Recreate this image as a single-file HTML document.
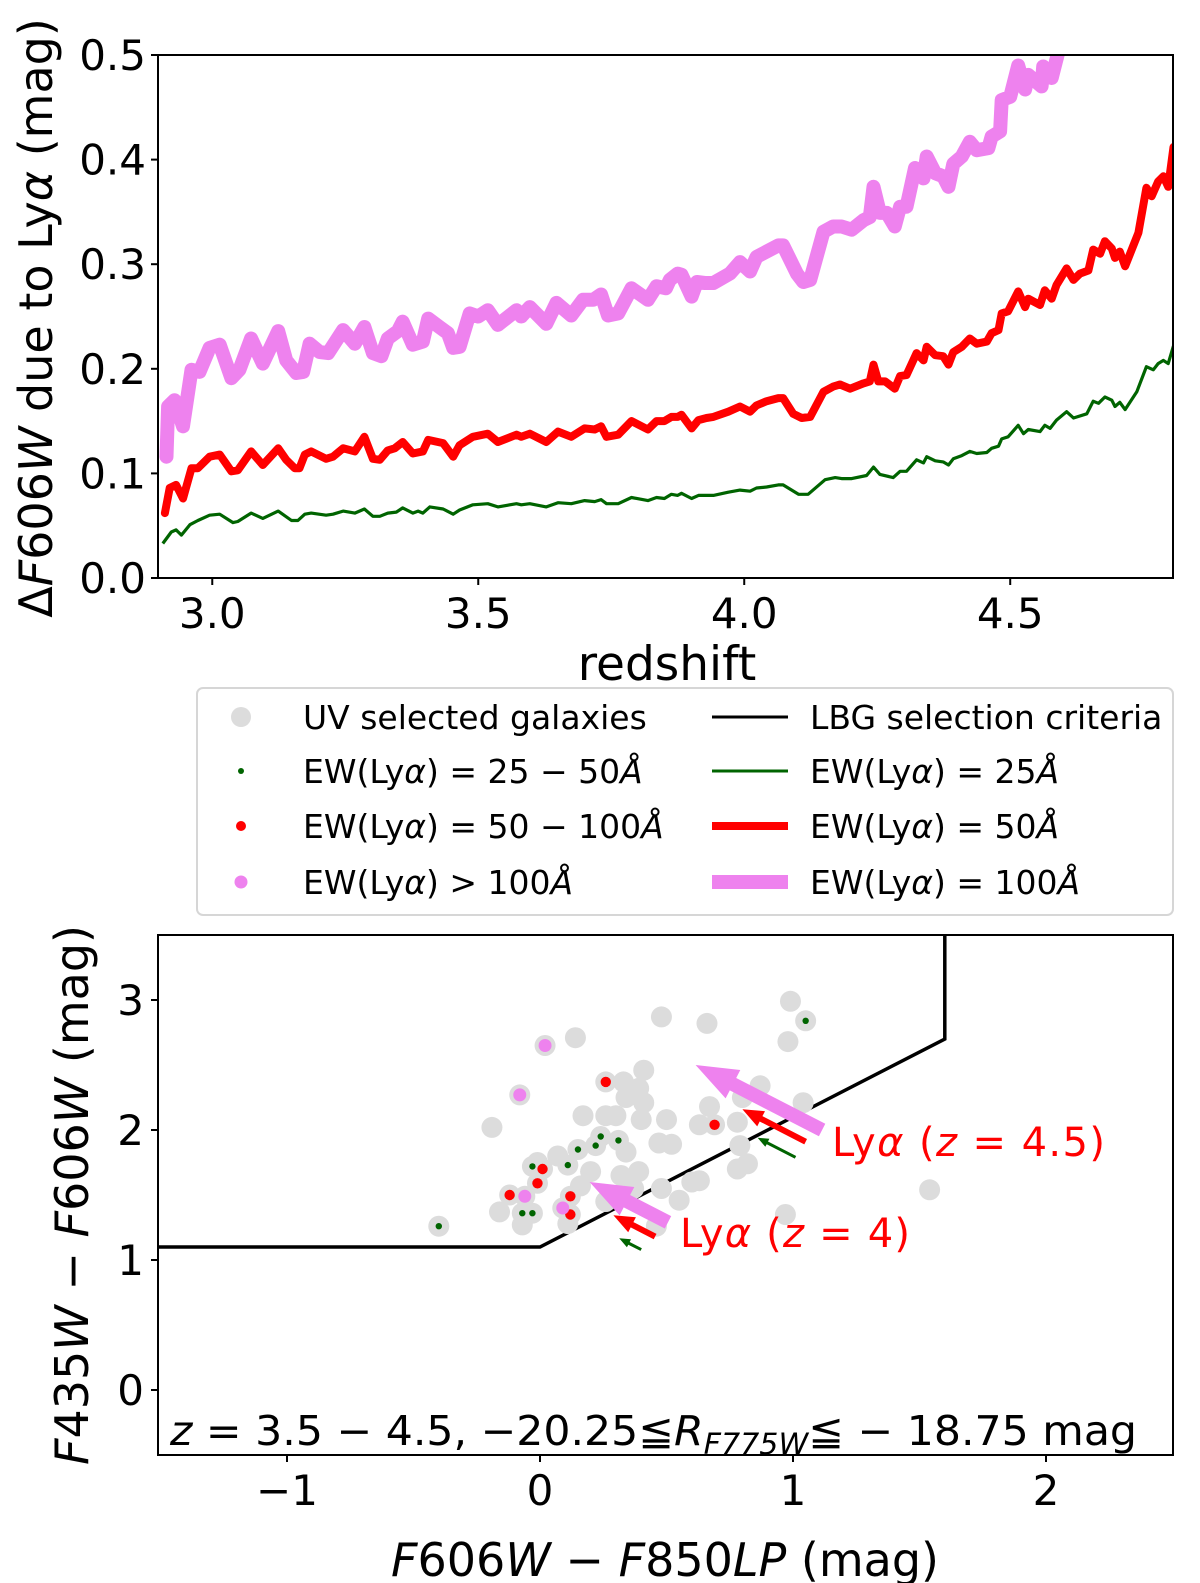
<!DOCTYPE html>
<html><head><meta charset="utf-8"><style>
html,body{margin:0;padding:0;background:#fff;}
svg{display:block;font-family:"DejaVu Sans","Liberation Sans",sans-serif;}
</style></head><body>
<svg id="fig" width="1200" height="1583" viewBox="0 0 1200 1583" xmlns="http://www.w3.org/2000/svg">
<g id="topPanel"></g>
<g id="legendPanel"></g>
<g id="botPanel"></g>
</svg>
<script>
// ---------- top panel data ----------
const topXTicks = [3.0, 3.5, 4.0, 4.5];
const topXTickLabels = ["3.0", "3.5", "4.0", "4.5"];
const topYTicks = [0.0, 0.1, 0.2, 0.3, 0.4, 0.5];
const topYTickLabels = ["0.0", "0.1", "0.2", "0.3", "0.4", "0.5"];
const pinkZ = [2.914,2.917,2.929,2.945,2.961,2.976,2.995,3.014,3.036,3.051,3.073,3.095,3.124,3.139,3.158,3.171,3.183,3.202,3.218,3.246,3.268,3.286,3.302,3.318,3.330,3.349,3.358,3.377,3.396,3.406,3.427,3.443,3.453,3.465,3.484,3.500,3.518,3.537,3.572,3.581,3.597,3.628,3.647,3.675,3.697,3.716,3.731,3.744,3.763,3.788,3.819,3.835,3.853,3.860,3.875,
3.882,3.901,3.911,3.926,3.942,3.973,3.992,4.011,4.023,4.042,4.064,4.073,4.099,4.111,4.124,4.149,4.167,4.183,4.202,4.224,4.236,4.243,4.255,4.268,4.283,4.293,4.305,4.321,4.337,4.343,4.359,4.374,4.384,4.393,4.409,4.424,4.437,4.459,4.465,4.481,4.484,4.500,4.515,4.528,4.534,4.559,4.562,4.578,4.590,4.620];
const pinkVal = [0.116,0.164,0.170,0.145,0.199,0.197,0.220,0.223,0.191,0.199,0.229,0.205,0.236,0.208,0.196,0.197,0.224,0.216,0.215,0.237,0.224,0.240,0.215,0.212,0.229,0.236,0.245,0.223,0.226,0.248,0.240,0.234,0.220,0.221,0.253,0.250,0.256,0.242,0.256,0.250,0.259,0.243,0.263,0.251,0.266,0.266,0.271,0.251,0.253,0.277,0.266,0.279,0.277,0.285,0.291,
0.290,0.269,0.283,0.282,0.282,0.291,0.302,0.293,0.307,0.312,0.318,0.318,0.291,0.283,0.285,0.331,0.336,0.336,0.333,0.342,0.345,0.374,0.349,0.349,0.336,0.355,0.355,0.392,0.382,0.403,0.387,0.384,0.374,0.396,0.403,0.417,0.409,0.411,0.422,0.427,0.457,0.460,0.490,0.467,0.481,0.470,0.489,0.478,0.502,0.560];
const redZ = [2.911,2.920,2.932,2.945,2.961,2.973,2.995,3.014,3.036,3.048,3.073,3.095,3.124,3.139,3.155,3.164,3.174,3.186,3.214,3.227,3.246,3.268,3.286,3.302,3.315,3.330,3.343,3.358,3.377,3.396,3.406,3.434,3.453,3.465,3.490,3.518,3.537,3.572,3.581,3.597,3.628,3.650,3.675,3.700,3.719,3.731,3.741,3.763,3.788,3.819,3.835,3.850,3.863,3.875,
3.882,3.901,3.914,3.929,3.942,3.970,3.992,4.011,4.023,4.042,4.064,4.073,4.092,4.108,4.124,4.149,4.167,4.180,4.199,4.224,4.236,4.243,4.252,4.265,4.283,4.293,4.305,4.324,4.337,4.343,4.359,4.374,4.384,4.393,4.409,4.424,4.437,4.456,4.465,4.478,4.484,4.496,4.515,4.528,4.534,4.556,4.565,4.578,4.587,4.606,4.619,4.631,4.647,4.656,4.669,4.678,4.691,4.697,4.706,4.716,4.741,4.756,4.766,4.778,4.788,4.797,4.807];
const redVal = [0.062,0.086,0.089,0.076,0.105,0.105,0.116,0.118,0.102,0.103,0.121,0.108,0.124,0.113,0.105,0.105,0.118,0.121,0.114,0.116,0.124,0.121,0.135,0.114,0.113,0.122,0.124,0.130,0.119,0.121,0.132,0.129,0.116,0.127,0.135,0.138,0.130,0.137,0.135,0.138,0.130,0.140,0.135,0.143,0.142,0.145,0.135,0.137,0.150,0.142,0.150,0.150,0.154,0.154,
0.156,0.143,0.151,0.153,0.154,0.159,0.164,0.159,0.165,0.169,0.172,0.172,0.157,0.153,0.154,0.178,0.183,0.185,0.181,0.186,0.188,0.204,0.188,0.188,0.181,0.193,0.194,0.215,0.208,0.221,0.213,0.212,0.204,0.216,0.221,0.229,0.224,0.226,0.234,0.237,0.253,0.255,0.274,0.259,0.267,0.261,0.275,0.267,0.280,0.296,0.285,0.291,0.294,0.314,0.310,0.322,0.315,0.306,0.312,0.298,0.330,0.373,0.365,0.379,0.384,0.374,0.412];
const greenZ = [2.907,2.923,2.932,2.942,2.958,2.973,2.995,3.014,3.039,3.048,3.073,3.095,3.124,3.149,3.161,3.174,3.186,3.214,3.227,3.246,3.268,3.286,3.302,3.315,3.330,3.346,3.358,3.377,3.387,3.396,3.409,3.434,3.453,3.465,3.490,3.518,3.537,3.572,3.581,3.597,3.628,3.650,3.675,3.700,3.719,3.731,3.741,3.763,3.788,3.819,3.835,3.850,3.863,3.875,
3.882,3.901,3.914,3.929,3.942,3.970,3.992,4.011,4.023,4.042,4.064,4.073,4.102,4.120,4.152,4.171,4.183,4.202,4.230,4.243,4.255,4.280,4.293,4.305,4.324,4.337,4.343,4.359,4.374,4.384,4.393,4.409,4.424,4.437,4.456,4.465,4.478,4.484,4.496,4.515,4.525,4.534,4.556,4.565,4.575,4.587,4.606,4.619,4.644,4.656,4.666,4.678,4.691,4.697,4.706,4.716,4.738,4.756,4.769,4.778,4.788,4.797,4.807];
const greenVal = [0.033,0.044,0.046,0.041,0.051,0.055,0.060,0.061,0.053,0.054,0.062,0.057,0.064,0.055,0.055,0.061,0.062,0.060,0.061,0.064,0.062,0.066,0.059,0.059,0.062,0.063,0.067,0.062,0.064,0.062,0.068,0.066,0.061,0.065,0.070,0.071,0.068,0.071,0.070,0.071,0.068,0.072,0.071,0.074,0.073,0.075,0.071,0.071,0.077,0.074,0.077,0.076,0.080,0.079,
0.081,0.076,0.079,0.079,0.079,0.082,0.084,0.083,0.086,0.087,0.089,0.089,0.080,0.080,0.094,0.096,0.095,0.095,0.098,0.106,0.099,0.096,0.102,0.102,0.113,0.110,0.116,0.112,0.111,0.108,0.114,0.117,0.121,0.119,0.120,0.124,0.126,0.133,0.135,0.146,0.138,0.142,0.140,0.146,0.143,0.151,0.159,0.153,0.157,0.169,0.167,0.173,0.170,0.164,0.168,0.161,0.178,0.202,0.199,0.205,0.208,0.205,0.222];

// ---------- bottom panel data ----------
const botXTicks = [-1, 0, 1, 2];
const botXTickLabels = ["\u22121", "0", "1", "2"];
const botYTicks = [0, 1, 2, 3];
const botYTickLabels = ["0", "1", "2", "3"];
const galX = [-0.40,0.02,0.14,0.48,0.66,0.99,1.05,0.98,-0.08,-0.19,0.26,0.33,0.41,0.39,0.34,0.41,0.17,0.26,0.30,0.40,0.50,0.87,0.80,0.67,0.63,0.69,0.78,1.04,0.47,0.52,0.79,0.78,0.82,0.24,0.31,0.22,0.34,0.15,0.07,-0.01,0.11,-0.03,0.01,0.20,0.32,0.39,-0.01,0.16,0.37,0.48,0.60,0.63,-0.12,-0.06,0.12,0.26,0.55,0.09,0.12,-0.16,-0.07,-0.03,-0.07,0.11,0.46,0.97,1.54];
const galY = [1.26,2.65,2.71,2.87,2.82,2.99,2.84,2.68,2.27,2.02,2.37,2.37,2.46,2.32,2.25,2.21,2.11,2.11,2.11,2.08,2.08,2.34,2.25,2.18,2.04,2.04,2.06,2.21,1.90,1.89,1.88,1.70,1.74,1.95,1.92,1.88,1.83,1.85,1.80,1.75,1.73,1.72,1.70,1.68,1.65,1.68,1.59,1.57,1.55,1.55,1.60,1.61,1.50,1.49,1.49,1.45,1.46,1.40,1.35,1.37,1.36,1.36,1.27,1.28,1.26,1.35,1.54];
const ew25X = [-0.40,1.05,0.24,0.31,0.22,0.15,0.11,-0.03,-0.07,-0.03];
const ew25Y = [1.26,2.84,1.95,1.92,1.88,1.85,1.73,1.72,1.36,1.36];
const ew50X = [0.26,0.69,0.01,-0.01,-0.12,0.12,0.12];
const ew50Y = [2.37,2.04,1.70,1.59,1.50,1.49,1.35];
const ew100X = [0.02,-0.08,-0.06,0.09];
const ew100Y = [2.65,2.27,1.49,1.40];
const lbgX = [-1.6, 0.0, 1.6, 1.6];
const lbgY = [1.1, 1.1, 2.7, 3.6];
const arrowTailX = [0.40, 0.455, 0.506, 1.01, 1.05, 1.115];
const arrowTailY = [1.08, 1.18, 1.29, 1.79, 1.91, 2.00];
const arrowDelta = [0.087, 0.165, 0.31, 0.15, 0.25, 0.50];
const arrowKind = ["g", "r", "p", "g", "r", "p"];

// ---------- helpers ----------
const SVGNS = "http://www.w3.org/2000/svg";
function mk(tag, attrs, parent) {
  const e = document.createElementNS(SVGNS, tag);
  for (const k in attrs) e.setAttribute(k, attrs[k]);
  parent.appendChild(e);
  return e;
}
const topG = document.getElementById("topPanel");
const botG = document.getElementById("botPanel");
const legG = document.getElementById("legendPanel");

// top axes
const tL = 158, tR = 1173, tT = 55, tB = 578;
const tx = z => tL + (z - 2.898) / (4.806 - 2.898) * (tR - tL);
const ty = v => tB - v / 0.5 * (tB - tT);

const defs = mk("defs", {}, document.getElementById("fig"));
const cp = mk("clipPath", {id: "clipTop"}, defs);
mk("rect", {x: tL, y: tT, width: tR - tL, height: tB - tT}, cp);
const cp2 = mk("clipPath", {id: "clipBot"}, defs);
mk("rect", {x: 158, y: 935, width: 1015, height: 520}, cp2);

function seriesPath(xs, ys, fx, fy) {
  return xs.map((x, i) => (i ? "L" : "M") + fx(x).toFixed(1) + "," + fy(ys[i]).toFixed(1)).join(" ");
}
const gTopLines = mk("g", {"clip-path": "url(#clipTop)"}, topG);
let pth;
pth = mk("path", {d: seriesPath(greenZ, greenVal, tx, ty), fill: "none", stroke: "#006400", "stroke-width": 3.2, "stroke-linejoin": "round"}, gTopLines);


pth = mk("path", {d: seriesPath(redZ, redVal, tx, ty), fill: "none", stroke: "#ff0000", "stroke-width": 8, "stroke-linejoin": "round", "stroke-linecap": "round"}, gTopLines);


pth = mk("path", {d: seriesPath(pinkZ, pinkVal, tx, ty), fill: "none", stroke: "#ee82ee", "stroke-width": 14, "stroke-linejoin": "round", "stroke-linecap": "round"}, gTopLines);



pth = mk("rect", {x: tL, y: tT, width: tR - tL, height: tB - tT, fill: "none", stroke: "#000", "stroke-width": 2}, topG);


topXTicks.forEach((v, i) => {
  const x = tx(v);
  mk("line", {x1: x, x2: x, y1: tB, y2: tB + 7, stroke: "#000", "stroke-width": 2}, topG);
  const t = mk("text", {x: x, y: tB + 50, "text-anchor": "middle", "font-size": 42}, topG);
  t.textContent = topXTickLabels[i];
  
  
});
topYTicks.forEach((v, i) => {
  const y = ty(v);
  mk("line", {x1: tL - 7, x2: tL, y1: y, y2: y, stroke: "#000", "stroke-width": 2}, topG);
  const t = mk("text", {x: tL - 12, y: y + 15, "text-anchor": "end", "font-size": 42}, topG);
  t.textContent = topYTickLabels[i];
  
  
});

topG.insertAdjacentHTML("beforeend",
 '<text x="667" y="680" text-anchor="middle" font-size="47">redshift</text>' +
 '<text transform="translate(52,318) rotate(-90)" text-anchor="middle" font-size="46">\u0394<tspan font-style="italic">F</tspan>606<tspan font-style="italic">W</tspan> due to Ly<tspan font-style="italic">\u03b1</tspan> (mag)</text>');

// legend
legG.insertAdjacentHTML("beforeend",
 '<rect x="197" y="688" width="976" height="227" rx="6" fill="#fff" stroke="#d6d6d6" stroke-width="2"/>' +
 '<circle cx="241" cy="717" r="10" fill="#dcdcdc"/>' +
 '<circle cx="241" cy="771" r="3" fill="#006400"/>' +
 '<circle cx="241" cy="826" r="5" fill="#ff0000"/>' +
 '<circle cx="241" cy="882" r="6.5" fill="#ee82ee"/>' +
 '<g font-size="33">' +
 '<text x="303" y="729">UV selected galaxies</text>' +
 '<text x="303" y="783">EW(Ly<tspan font-style="italic">\u03b1</tspan>) = 25 \u2212 50<tspan font-style="italic">\u00c5</tspan></text>' +
 '<text x="303" y="838">EW(Ly<tspan font-style="italic">\u03b1</tspan>) = 50 \u2212 100<tspan font-style="italic">\u00c5</tspan></text>' +
 '<text x="303" y="894">EW(Ly<tspan font-style="italic">\u03b1</tspan>) &gt; 100<tspan font-style="italic">\u00c5</tspan></text>' +
 '<text x="810" y="729">LBG selection criteria</text>' +
 '<text x="810" y="783">EW(Ly<tspan font-style="italic">\u03b1</tspan>) = 25<tspan font-style="italic">\u00c5</tspan></text>' +
 '<text x="810" y="838">EW(Ly<tspan font-style="italic">\u03b1</tspan>) = 50<tspan font-style="italic">\u00c5</tspan></text>' +
 '<text x="810" y="894">EW(Ly<tspan font-style="italic">\u03b1</tspan>) = 100<tspan font-style="italic">\u00c5</tspan></text>' +
 '</g>' +
 '<line x1="712" x2="788" y1="717" y2="717" stroke="#000" stroke-width="3"/>' +
 '<line x1="712" x2="788" y1="771" y2="771" stroke="#006400" stroke-width="3"/>' +
 '<line x1="712" x2="788" y1="826" y2="826" stroke="#ff0000" stroke-width="8"/>' +
 '<line x1="712" x2="788" y1="882" y2="882" stroke="#ee82ee" stroke-width="14"/>');

// bottom panel
const bL = 158, bR = 1173, bT = 935, bB = 1455;
const bx = v => 540 + v * 253;
const by = v => 1390 - v * 130;
const gb = mk("g", {"clip-path": "url(#clipBot)"}, botG);

let el = mk("path", {d: lbgX.map((x, i) => (i ? "L" : "M") + bx(x) + "," + by(lbgY[i])).join(" "), fill: "none", stroke: "#000", "stroke-width": 3.5}, gb);



galX.forEach((x, i) => {
  const c = mk("circle", {cx: bx(x), cy: by(galY[i]), r: 10.5, fill: "#dcdcdc"}, gb);
  
  
});
ew25X.forEach((x, i) => {
  const c = mk("circle", {cx: bx(x), cy: by(ew25Y[i]), r: 3.2, fill: "#006400"}, gb);
  
  
});
ew50X.forEach((x, i) => {
  const c = mk("circle", {cx: bx(x), cy: by(ew50Y[i]), r: 5.2, fill: "#ff0000"}, gb);
  
  
});
ew100X.forEach((x, i) => {
  const c = mk("circle", {cx: bx(x), cy: by(ew100Y[i]), r: 6.5, fill: "#ee82ee"}, gb);
  
  
});

const arrowStyles = {g: {col: "#006400", w: 3, hw: 9, hl: 11}, r: {col: "#ff0000", w: 6, hw: 17, hl: 21}, p: {col: "#ee82ee", w: 14, hw: 32, hl: 42}};
arrowTailX.forEach((x, i) => {
  const s = arrowStyles[arrowKind[i]];
  const x0 = bx(x), y0 = by(arrowTailY[i]);
  const x1 = bx(x - arrowDelta[i]), y1 = by(arrowTailY[i] + arrowDelta[i]);
  const L = Math.hypot(x1 - x0, y1 - y0);
  const ux = (x1 - x0) / L, uy = (y1 - y0) / L, nx = -uy, ny = ux;
  const hx = x1 - ux * s.hl, hy = y1 - uy * s.hl;
  const pts = [
    [x0 + nx * s.w / 2, y0 + ny * s.w / 2],
    [hx + nx * s.w / 2, hy + ny * s.w / 2],
    [hx + nx * s.hw / 2, hy + ny * s.hw / 2],
    [x1, y1],
    [hx - nx * s.hw / 2, hy - ny * s.hw / 2],
    [hx - nx * s.w / 2, hy - ny * s.w / 2],
    [x0 - nx * s.w / 2, y0 - ny * s.w / 2]
  ].map(q => q[0].toFixed(1) + "," + q[1].toFixed(1)).join(" ");
  const a = mk("polygon", {points: pts, fill: s.col}, gb);
  
  
});

el = mk("rect", {x: bL, y: bT, width: bR - bL, height: bB - bT, fill: "none", stroke: "#000", "stroke-width": 2}, botG);


botXTicks.forEach((v, i) => {
  const x = bx(v);
  mk("line", {x1: x, x2: x, y1: bB, y2: bB + 7, stroke: "#000", "stroke-width": 2}, botG);
  const t = mk("text", {x: x, y: bB + 50, "text-anchor": "middle", "font-size": 42}, botG);
  t.textContent = botXTickLabels[i];
  
  
});
botYTicks.forEach((v, i) => {
  const y = by(v);
  mk("line", {x1: bL - 7, x2: bL, y1: y, y2: y, stroke: "#000", "stroke-width": 2}, botG);
  const t = mk("text", {x: bL - 14, y: y + 15, "text-anchor": "end", "font-size": 42}, botG);
  t.textContent = botYTickLabels[i];
  
  
});
botG.insertAdjacentHTML("beforeend",
 '<text x="832" y="1156" font-size="40" fill="#ff0000" textLength="273" lengthAdjust="spacing">Ly<tspan font-style="italic">\u03b1</tspan> (<tspan font-style="italic">z</tspan> = 4.5)</text>' +
 '<text x="680" y="1247" font-size="40" fill="#ff0000" textLength="230" lengthAdjust="spacing">Ly<tspan font-style="italic">\u03b1</tspan> (<tspan font-style="italic">z</tspan> = 4)</text>' +
 '<text x="170" y="1445" font-size="41" textLength="967" lengthAdjust="spacingAndGlyphs"><tspan font-style="italic">z</tspan> = 3.5 \u2212 4.5, \u221220.25\u2266<tspan font-style="italic">R</tspan><tspan font-style="italic" font-size="29" dy="9">F775W</tspan><tspan dy="-9">\u2266 \u2212 18.75 mag</tspan></text>' +
 '<text x="665" y="1576" text-anchor="middle" font-size="46"><tspan font-style="italic">F</tspan>606<tspan font-style="italic">W</tspan> \u2212 <tspan font-style="italic">F</tspan>850<tspan font-style="italic">LP</tspan> (mag)</text>' +
 '<text transform="translate(88,1195) rotate(-90)" text-anchor="middle" font-size="46"><tspan font-style="italic">F</tspan>435<tspan font-style="italic">W</tspan> \u2212 <tspan font-style="italic">F</tspan>606<tspan font-style="italic">W</tspan> (mag)</text>');
</script>
</body></html>
